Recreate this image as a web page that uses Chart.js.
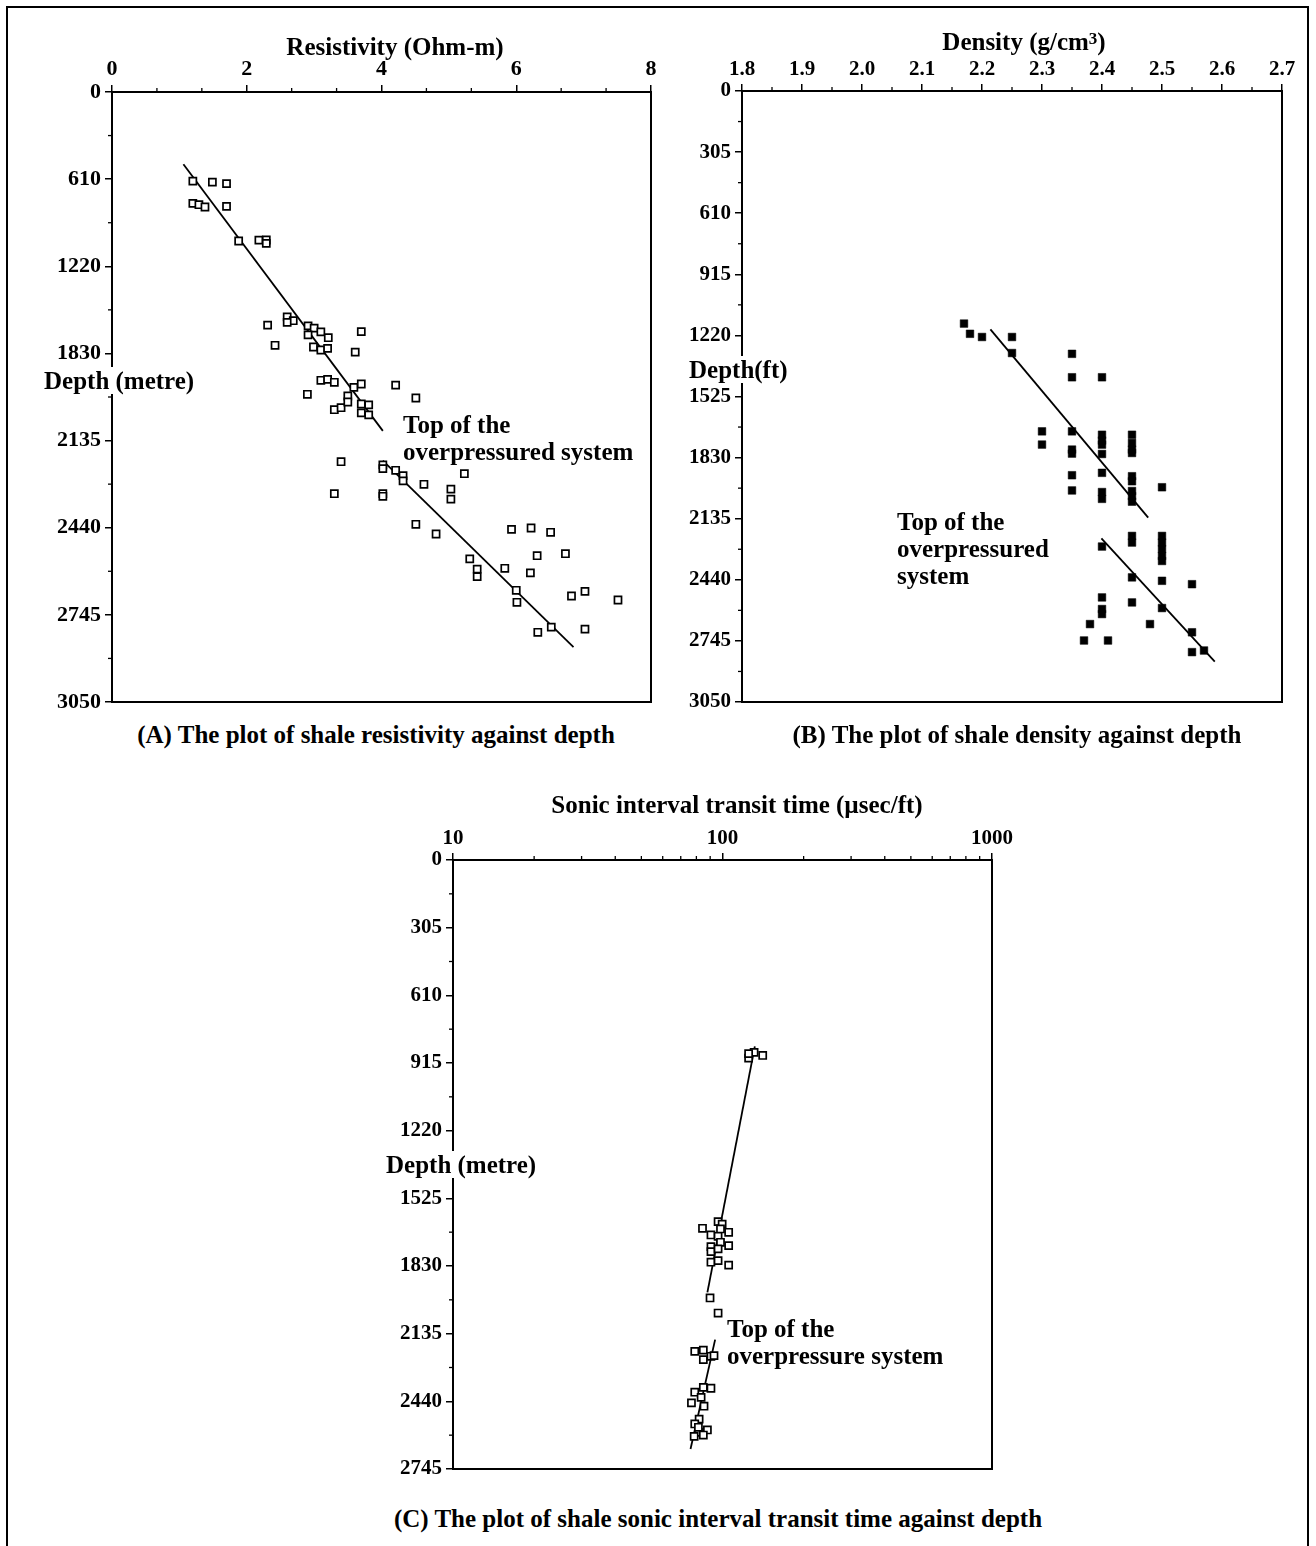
<!DOCTYPE html>
<html>
<head>
<meta charset="utf-8">
<script src="https://cdn.jsdelivr.net/npm/chart.js@4/dist/chart.umd.min.js"></script>
<style>
  html,body{margin:0;padding:0;background:#fff;}
  body{width:1316px;height:1546px;position:relative;overflow:hidden;font-family:'Liberation Serif','Times New Roman',serif;color:#000;}
  .frame{position:absolute;left:6px;top:6px;width:1303px;height:1570px;border:2px solid #000;box-sizing:border-box;}
  canvas{position:absolute;}
  .t{position:absolute;font-weight:bold;white-space:nowrap;line-height:27px;height:27px;font-size:25px;}
  .c{transform:translateX(-50%);}
  .bg{background:#fff;padding:0 2px;}
  sup{font-size:68%;vertical-align:top;position:relative;top:-3px;}
</style>
</head>
<body>
<div class="frame"></div>
<canvas id="cA" width="700" height="720" style="left:0;top:0"></canvas>
<canvas id="cB" width="670" height="720" style="left:640px;top:0"></canvas>
<canvas id="cC" width="700" height="740" style="left:340px;top:760px"></canvas>

<div class="t c" style="left:395px;top:33px">Resistivity (Ohm-m)</div>
<div class="t bg" style="left:42px;top:367px">Depth (metre)</div>
<div class="t" style="left:403px;top:411px">Top of the</div>
<div class="t" style="left:403px;top:438px">overpressured system</div>
<div class="t c" style="left:376px;top:721px">(A) The plot of shale resistivity against depth</div>

<div class="t c" style="left:1024px;top:28px">Density (g/cm<sup>3</sup>)</div>
<div class="t bg" style="left:687px;top:356px">Depth(ft)</div>
<div class="t" style="left:897px;top:508px">Top of the</div>
<div class="t" style="left:897px;top:535px">overpressured</div>
<div class="t" style="left:897px;top:562px">system</div>
<div class="t c" style="left:1017px;top:721px">(B) The plot of shale density against depth</div>

<div class="t c" style="left:737px;top:791px">Sonic interval transit time (µsec/ft)</div>
<div class="t bg" style="left:384px;top:1151px">Depth (metre)</div>
<div class="t" style="left:727px;top:1315px">Top of the</div>
<div class="t" style="left:727px;top:1342px">overpressure system</div>
<div class="t c" style="left:718px;top:1505px">(C) The plot of shale sonic interval transit time against depth</div>

<script>
// ---------------- Chart A: resistivity vs depth ----------------
const A_X_TICKS = [0, 2, 4, 6, 8];
const A_Y_LABELS = [0, 610, 1220, 1830, 2135, 2440, 2745, 3050];
const A_RES = [1.20,1.49,1.70,1.20,1.29,1.38,1.70,1.88,2.18,2.29,2.29,
  2.60,2.69,2.60,2.31,2.91,3.00,2.91,3.10,3.21,3.70,2.42,2.99,3.10,3.20,3.61,
  3.10,3.20,3.30,3.59,3.70,4.21,2.90,3.30,3.40,3.50,3.50,3.70,3.70,3.81,3.81,4.51,
  3.40,3.30,4.02,4.02,4.21,4.32,4.32,4.63,4.02,4.02,5.03,5.03,5.23,4.51,4.81,
  5.31,5.42,5.42,5.83,5.93,6.22,6.51,6.31,6.73,6.21,6.00,6.01,6.82,7.02,7.51,
  6.52,6.32,7.02];
const A_DEPTH = [624,631,641,780,789,805,801,1043,1037,1036,1060,
  1574,1601,1613,1632,1637,1653,1700,1679,1720,1677,1773,1785,1806,1795,1821,
  1924,1921,1931,1949,1937,1941,1973,2027,2020,1979,2000,2007,2038,2010,2045,1986,
  2209,2321,2220,2233,2239,2258,2276,2288,2321,2330,2305,2340,2251,2428,2462,
  2549,2585,2611,2582,2446,2441,2456,2538,2531,2598,2659,2701,2679,2663,2693,
  2788,2806,2795];
const A_TREND1_RES = [1.06, 4.02];
const A_TREND1_DEPTH = [506, 2101];
const A_TREND2_RES = [4.02, 6.85];
const A_TREND2_DEPTH = [2205, 2858];

// ---------------- Chart B: density vs depth ----------------
const B_X_TICKS = [1.8, 1.9, 2.0, 2.1, 2.2, 2.3, 2.4, 2.5, 2.6, 2.7];
const B_Y_TICKS = [0, 305, 610, 915, 1220, 1525, 1830, 2135, 2440, 2745, 3050];
const B_DEN = [2.17,2.18,2.20,2.25,2.25,2.35,2.35,2.40,
  2.30,2.30,2.35,2.35,2.35,2.35,2.35,2.40,2.40,2.40,2.40,2.40,2.40,2.40,
  2.45,2.45,2.45,2.45,2.45,2.45,2.45,2.45,2.45,2.50,
  2.45,2.45,2.40,2.50,2.50,2.50,2.50,2.50,2.45,2.50,2.55,
  2.40,2.40,2.40,2.45,2.50,2.38,2.48,2.37,2.41,2.55,2.55,2.57];
const B_DEPTH = [1161,1212,1228,1228,1308,1312,1429,1429,
  1699,1765,1699,1790,1810,1918,1994,1716,1745,1765,1812,1906,2002,2036,
  1716,1757,1790,1807,1923,1948,1997,2022,2050,1978,
  2221,2254,2274,2221,2254,2287,2321,2346,2428,2445,2462,
  2528,2586,2611,2553,2581,2661,2661,2743,2743,2702,2801,2793];
const B_TREND1_DEN = [2.214, 2.477];
const B_TREND1_DEPTH = [1190, 2130];
const B_TREND2_DEN = [2.399, 2.588];
const B_TREND2_DEPTH = [2233, 2848];

// ---------------- Chart C: sonic transit time vs depth ----------------
const C_X_TICKS = [10, 100, 1000];
const C_Y_TICKS = [0, 305, 610, 915, 1220, 1525, 1830, 2135, 2440, 2745];
const C_DT = [125,131,141,125,
  84.3,96.3,99.7,98.3,105.4,90.6,96.3,90.6,90.6,98.3,105.4,96.3,90.6,96.3,105.4,89.9,96.3,
  78.9,84.9,90.6,84.9,93.0,78.9,84.9,90.6,83.3,76.7,85.4,81.9,78.9,87.9,81.4,78.5,84.9,81.4];
const C_DEPTH = [893,867,881,873,
  1660,1630,1641,1663,1678,1690,1696,1743,1765,1723,1738,1753,1813,1806,1826,1974,2042,
  2215,2209,2237,2252,2234,2399,2377,2381,2422,2447,2462,2520,2542,2569,2580,2598,2592,2557];
const C_TREND1_DT = [131.8, 87.9];
const C_TREND1_DEPTH = [840, 1949];
const C_TREND2_DT = [93.9, 76.1];
const C_TREND2_DEPTH = [2162, 2655];

// ---------------- helpers ----------------
// Chart A's depth labels are drawn at equal spacing; map a depth to its position between labels.
function depthToSlotA(d) {
  const T = A_Y_LABELS;
  for (let i = 0; i < T.length - 1; i++) {
    if (d <= T[i + 1]) return i + (d - T[i]) / (T[i + 1] - T[i]);
  }
  return T.length - 1;
}
const pts = (xs, ys, fy) => xs.map((x, i) => ({ x: x, y: fy ? fy(ys[i]) : ys[i] }));

const tickFont = s => ({ family: "'Liberation Serif','Times New Roman',serif", size: s, weight: 'bold' });

const framePlugin = {
  id: 'frame',
  afterDraw(chart, args, opts) {
    const { ctx, chartArea: a, scales } = chart;
    ctx.save();
    ctx.strokeStyle = '#000';
    ctx.lineWidth = 2;
    ctx.strokeRect(a.left, a.top, a.right - a.left, a.bottom - a.top);
    ctx.lineWidth = 1.3;
    (opts.minorX || []).forEach(v => {
      const x = scales.x.getPixelForValue(v);
      ctx.beginPath(); ctx.moveTo(x, a.top); ctx.lineTo(x, a.top - 4); ctx.stroke();
    });
    (opts.minorY || []).forEach(v => {
      const y = scales.y.getPixelForValue(v);
      ctx.beginPath(); ctx.moveTo(a.left, y); ctx.lineTo(a.left - 4, y); ctx.stroke();
    });
    ctx.restore();
  }
};

function axisCommon(extra) {
  return Object.assign({
    grid: { display: true, drawOnChartArea: false, drawTicks: true, tickLength: 7, color: '#000', tickColor: '#000', lineWidth: 1.5 },
    border: { display: true, color: '#000', width: 2 },
  }, extra);
}

function makeChart(id, cfg) {
  const sq = cfg.filled
    ? { pointStyle: 'rect', pointRadius: 5.4, pointBackgroundColor: '#000', pointBorderColor: '#000', pointBorderWidth: 0.5 }
    : { pointStyle: 'rect', pointRadius: 5, pointBackgroundColor: '#fff', pointBorderColor: '#000', pointBorderWidth: 1.7 };
  const lineDs = d => ({ data: d, showLine: true, pointRadius: 0, borderColor: '#000', borderWidth: 1.8, fill: false, order: 2 });
  return new Chart(document.getElementById(id), {
    type: 'scatter',
    data: {
      datasets: [
        lineDs(cfg.trend1),
        lineDs(cfg.trend2),
        Object.assign({ data: cfg.points, showLine: false, order: 1 }, sq)
      ]
    },
    options: {
      responsive: false,
      animation: false,
      devicePixelRatio: 1,
      layout: { padding: cfg.padding },
      plugins: { legend: { display: false }, tooltip: { enabled: false }, frame: { minorX: cfg.minorX, minorY: cfg.minorY } },
      scales: {
        x: axisCommon(Object.assign({
          position: 'top',
          afterFit: s => { s.height = cfg.xAxisH; },
          ticks: { font: tickFont(cfg.fontSize), color: '#000', padding: 2, maxRotation: 0, autoSkip: false, callback: cfg.xLabel },
          afterBuildTicks: s => { s.ticks = cfg.xTicks.map(v => ({ value: v })); }
        }, cfg.xScale)),
        y: axisCommon(Object.assign({
          reverse: true,
          afterFit: s => { s.width = cfg.yAxisW; },
          ticks: { font: tickFont(cfg.fontSize), color: '#000', padding: 4, autoSkip: false, callback: cfg.yLabel },
          afterBuildTicks: s => { s.ticks = cfg.yTicks.map(v => ({ value: v })); }
        }, cfg.yScale))
      }
    },
    plugins: [framePlugin]
  });
}

const mids = arr => arr.slice(0, -1).map((v, i) => (v + arr[i + 1]) / 2);

// Chart A
makeChart('cA', {
  points: pts(A_RES, A_DEPTH, depthToSlotA),
  trend1: pts(A_TREND1_RES, A_TREND1_DEPTH, depthToSlotA),
  trend2: pts(A_TREND2_RES, A_TREND2_DEPTH, depthToSlotA),
  xScale: { type: 'linear', min: 0, max: 8 },
  yScale: { type: 'linear', min: 0, max: A_Y_LABELS.length - 1 },
  xTicks: A_X_TICKS,
  yTicks: A_Y_LABELS.map((v, i) => i),
  xLabel: v => String(v),
  yLabel: v => String(A_Y_LABELS[Math.round(v)]),
  minorX: A_X_TICKS.slice(0, -1).flatMap((v, i) => { const st = (A_X_TICKS[i + 1] - v) / 3; return [v + st, v + 2 * st]; }),
  minorY: mids(A_Y_LABELS.map((v, i) => i)),
  xAxisH: 92, yAxisW: 112, fontSize: 22,
  padding: { left: 0, top: 0, right: 49, bottom: 18 },
  filled: false
});

// Chart B
makeChart('cB', {
  points: pts(B_DEN, B_DEPTH),
  trend1: pts(B_TREND1_DEN, B_TREND1_DEPTH),
  trend2: pts(B_TREND2_DEN, B_TREND2_DEPTH),
  xScale: { type: 'linear', min: B_X_TICKS[0], max: B_X_TICKS[B_X_TICKS.length - 1] },
  yScale: { type: 'linear', min: 0, max: 3050 },
  xTicks: B_X_TICKS,
  yTicks: B_Y_TICKS,
  xLabel: v => Number(v).toFixed(1),
  yLabel: v => String(v),
  minorX: mids(B_X_TICKS),
  minorY: mids(B_Y_TICKS),
  xAxisH: 91, yAxisW: 102, fontSize: 21,
  padding: { left: 0, top: 0, right: 28, bottom: 18 },
  filled: true
});

// Chart C
makeChart('cC', {
  points: pts(C_DT, C_DEPTH),
  trend1: pts(C_TREND1_DT, C_TREND1_DEPTH),
  trend2: pts(C_TREND2_DT, C_TREND2_DEPTH),
  xScale: { type: 'logarithmic', min: 10, max: 1000 },
  yScale: { type: 'linear', min: 0, max: 2745 },
  xTicks: C_X_TICKS,
  yTicks: C_Y_TICKS,
  xLabel: v => String(v),
  yLabel: v => String(v),
  minorX: C_X_TICKS.slice(0, -1).flatMap(v => [2, 3, 4, 5, 6, 7, 8, 9].map(k => k * v)),
  minorY: mids(C_Y_TICKS),
  xAxisH: 100, yAxisW: 113, fontSize: 21,
  padding: { left: 0, top: 0, right: 48, bottom: 31 },
  filled: false
});
</script>
</body>
</html>
